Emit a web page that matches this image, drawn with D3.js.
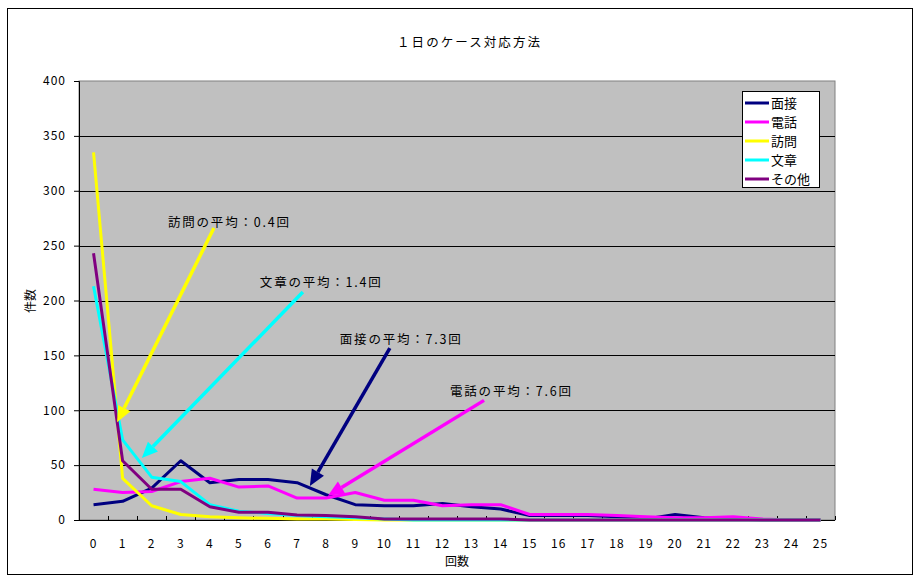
<!DOCTYPE html>
<html>
<head>
<meta charset="utf-8">
<script src="https://cdn.jsdelivr.net/npm/d3@7/dist/d3.min.js"></script>
<style>
  html, body { margin: 0; padding: 0; background: #fff; }
  svg { display: block; }
  text { font-family: "Noto Sans CJK JP", "Noto Sans", sans-serif; fill: #000; }
</style>
</head>
<body>
<script>
// 回数 categories (0..25)
const counts = d3.range(0, 26).map(String);

const seriesNames = ["面接", "電話", "訪問", "文章", "その他"];
const seriesColors = ["#000080", "#ff00ff", "#ffff00", "#00ffff", "#800080"];

const mensetsu = [14, 17, 29, 54, 34, 37, 37, 34, 23, 14, 13, 13, 15, 12, 10, 4, 4, 4, 3, 1, 5, 2, 1, 0, 0, 0];
const denwa    = [28, 25, 26, 35, 38, 30, 31, 20, 20, 25, 18, 18, 13, 14, 14, 5, 5, 5, 4, 3, 2, 2, 3, 1, 0, 0];
const houmon   = [335, 38, 13, 5, 3, 2, 1.5, 1, 1, 0.5, 0, 0, 0, 0, 0, 0, 0, 0, 0, 0, 0, 0, 0, 0, 0, 0];
const bunsho   = [213, 73, 39, 35, 14, 8, 6, 4, 3, 2, 1, 0, 0, 0, 0, 0, 0, 0, 0, 0, 0, 0, 0, 0, 0, 0];
const sonota   = [243, 54, 28, 28, 12, 7, 7, 4.5, 4, 3, 1, 1, 1, 1, 1, 0, 0, 0, 0, 0, 0, 0, 0, 0, 0, 0];
const seriesValues = [mensetsu, denwa, houmon, bunsho, sonota];

const yTicks = [0, 50, 100, 150, 200, 250, 300, 350, 400];

// Average annotations: label position and arrow from/to, in data units
const noteTexts  = ["訪問の平均：0.4回", "文章の平均：1.4回", "面接の平均：7.3回", "電話の平均：7.6回"];
const noteColors = ["#ffff00", "#00ffff", "#000080", "#ff00ff"];
const noteLabelAt = [[2.56, 270.6], [5.72, 216], [8.47, 164], [12.26, 116.6]];
const noteFrom    = [[4.14, 266], [7.20, 207.7], [10.19, 156.7], [13.43, 109]];
const noteTo      = [[0.81, 89], [1.66, 56.5], [7.44, 31], [8.06, 22]];

const W = 920, H = 579;
const plot = { left: 79, right: 835, top: 81, bottom: 520 };

const svg = d3.select("body").append("svg").attr("width", W).attr("height", H);

// outer frame
svg.append("rect").attr("x", 7.5).attr("y", 8.5).attr("width", 905).attr("height", 566)
  .attr("fill", "#fff").attr("stroke", "#000").attr("stroke-width", 1);

const x = d3.scaleBand().domain(counts).range([plot.left, plot.right]).padding(0);
const xc = d => x(String(d)) + x.bandwidth() / 2;
const xl = d3.scaleLinear().domain([-0.5, 25.5]).range([plot.left, plot.right]);
const y = d3.scaleLinear().domain([0, 400]).range([plot.bottom, plot.top]);

// plot background
svg.append("rect").attr("x", plot.left).attr("y", plot.top)
  .attr("width", plot.right - plot.left).attr("height", plot.bottom - plot.top)
  .attr("fill", "#c0c0c0").attr("stroke", "#808080").attr("stroke-width", 1);

// gridlines
svg.append("g").selectAll("line").data(yTicks.filter(t => t > 0 && t < 400)).join("line")
  .attr("x1", plot.left).attr("x2", plot.right)
  .attr("y1", d => Math.round(y(d)) + 0.5).attr("y2", d => Math.round(y(d)) + 0.5)
  .attr("stroke", "#000").attr("stroke-width", 1);

// y axis
const yAxis = svg.append("g").attr("transform", `translate(${plot.left},0)`)
  .call(d3.axisLeft(y).tickValues(yTicks).tickSize(5).tickPadding(8));
yAxis.select(".domain").attr("stroke", "#000");
yAxis.selectAll("text").style("font-size", "12px").style("font-family", "'Noto Sans CJK JP', sans-serif")
  .attr("letter-spacing", "1px");

// x axis: ticks between categories
const xAxisG = svg.append("g").attr("transform", `translate(0,${plot.bottom})`);
xAxisG.append("line").attr("x1", plot.left).attr("x2", plot.right).attr("y1", 0.5).attr("y2", 0.5).attr("stroke", "#000");
xAxisG.selectAll("line.tk").data(d3.range(0, 27)).join("line").attr("class", "tk")
  .attr("x1", d => Math.round(xl(d - 0.5)) + 0.5).attr("x2", d => Math.round(xl(d - 0.5)) + 0.5)
  .attr("y1", 0).attr("y2", -4).attr("stroke", "#000");
xAxisG.selectAll("text").data(counts).join("text")
  .attr("x", d => xc(d)).attr("y", 28).attr("text-anchor", "middle")
  .attr("letter-spacing", "1px")
  .style("font-size", "12px").text(d => d);

// axis titles
svg.append("text").attr("x", 457).attr("y", 566).attr("text-anchor", "middle")
  .style("font-size", "12px").text("回数");
svg.append("text").attr("transform", "translate(35,301) rotate(-90)").attr("text-anchor", "middle")
  .style("font-size", "12px").text("件数");

// title
svg.append("text").attr("x", 397).attr("y", 47)
  .attr("textLength", 143).attr("lengthAdjust", "spacing")
  .style("font-size", "12.5px").text("１日のケース対応方法");

// series lines
const line = d3.line().x((d, i) => xc(i)).y(d => y(d));
seriesValues.forEach((vals, k) => {
  svg.append("path").datum(vals).attr("d", line)
    .attr("fill", "none").attr("stroke", seriesColors[k]).attr("stroke-width", 3)
    .attr("stroke-linejoin", "round");
});

// annotations with arrows
noteTexts.forEach((t, k) => {
  const x1 = xl(noteFrom[k][0]), y1 = y(noteFrom[k][1]);
  const x2 = xl(noteTo[k][0]), y2 = y(noteTo[k][1]);
  const ang = Math.atan2(y2 - y1, x2 - x1);
  const headLen = 16, headW = 7;
  const bx = x2 - headLen * Math.cos(ang), by = y2 - headLen * Math.sin(ang);
  svg.append("line").attr("x1", x1).attr("y1", y1).attr("x2", bx).attr("y2", by)
    .attr("stroke", noteColors[k]).attr("stroke-width", 3.5);
  const px = -Math.sin(ang), py = Math.cos(ang);
  svg.append("path")
    .attr("d", `M${x2},${y2}L${bx + px * headW},${by + py * headW}L${bx - px * headW},${by - py * headW}Z`)
    .attr("fill", noteColors[k]);
  svg.append("text").attr("x", xl(noteLabelAt[k][0])).attr("y", y(noteLabelAt[k][1]))
    .attr("dy", "0.35em").attr("textLength", 121).attr("lengthAdjust", "spacing")
    .style("font-size", "12.5px").text(t);
});

// legend
const lg = svg.append("g");
lg.append("rect").attr("x", 742.5).attr("y", 91.5).attr("width", 77).attr("height", 96)
  .attr("fill", "#fff").attr("stroke", "#000");
seriesNames.forEach((n, k) => {
  const ry = 103 + k * 19;
  lg.append("line").attr("x1", 745).attr("x2", 769).attr("y1", ry).attr("y2", ry)
    .attr("stroke", seriesColors[k]).attr("stroke-width", 3);
  lg.append("text").attr("x", 771).attr("y", ry).attr("dy", "0.35em")
    .style("font-size", "13px").text(n);
});
</script>
</body>
</html>
